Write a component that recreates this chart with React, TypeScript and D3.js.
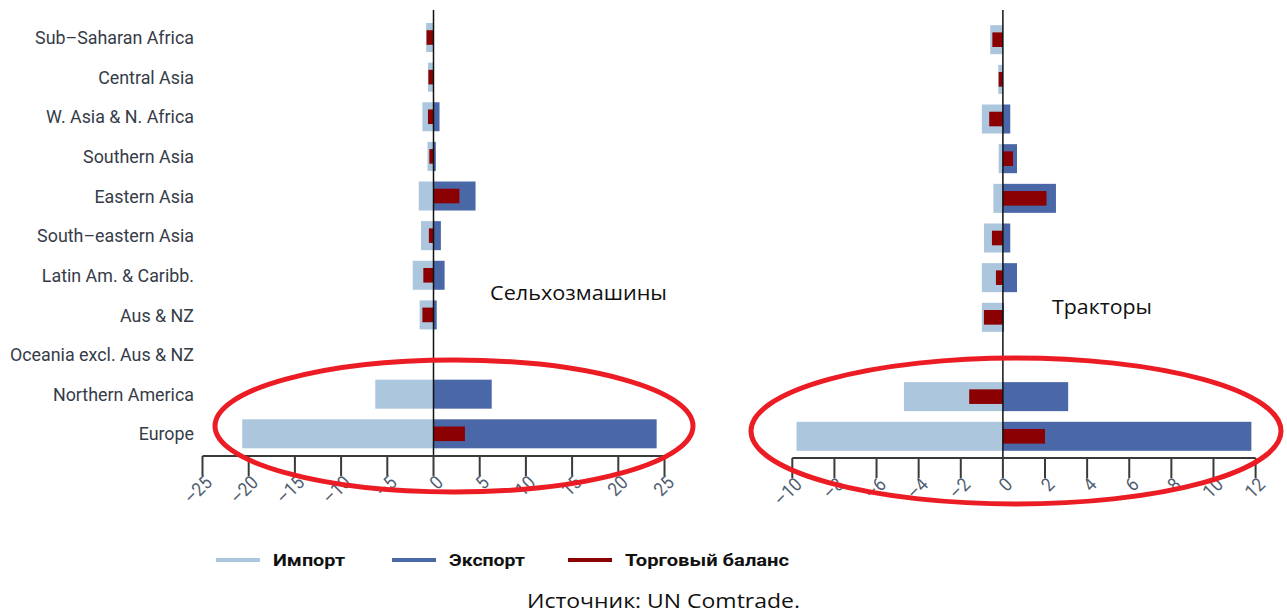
import React, { useEffect, useRef } from "react";
import * as d3 from "d3";

// регионы (сверху вниз)
const categories = [
  "Sub–Saharan Africa",
  "Central Asia",
  "W. Asia & N. Africa",
  "Southern Asia",
  "Eastern Asia",
  "South–eastern Asia",
  "Latin Am. & Caribb.",
  "Aus & NZ",
  "Oceania excl. Aus & NZ",
  "Northern America",
  "Europe",
];

// Сельхозмашины
const machImport = [-0.8, -0.6, -1.2, -0.65, -1.6, -1.35, -2.25, -1.5, 0, -6.3, -20.7];
const machExport = [0.05, 0.05, 0.65, 0.25, 4.55, 0.8, 1.2, 0.35, 0, 6.3, 24.15];
const machBalance = [-0.75, -0.55, -0.6, -0.45, 2.8, -0.5, -1.1, -1.2, 0, 0, 3.4];
const machTicks = [-25, -20, -15, -10, -5, 0, 5, 10, 15, 20, 25];

// Тракторы
const tractImport = [-0.6, -0.22, -1.0, -0.2, -0.45, -0.9, -1.0, -1.0, 0, -4.7, -9.8];
const tractExport = [0, 0, 0.35, 0.67, 2.52, 0.35, 0.67, 0.05, 0, 3.1, 11.8];
const tractBalance = [-0.5, -0.2, -0.65, 0.48, 2.07, -0.52, -0.33, -0.9, 0, -1.6, 2.0];
const tractTicks = [-10, -8, -6, -4, -2, 0, 2, 4, 6, 8, 10, 12];

const legendItems = [
  { label: "Импорт", color: "#abc6dd", width: 72 },
  { label: "Экспорт", color: "#4a67a8", width: 76 },
  { label: "Торговый баланс", color: "#8b0000", width: 164 },
];

const COLORS = { imp: "#abc6dd", exp: "#4a67a8", bal: "#8b0000" };
const COND = "Roboto, 'DejaVu Sans Condensed', sans-serif";

const W = 1287;
const H = 614;

interface PanelCfg {
  title: string;
  titleX: number;
  titleY: number;
  titleW: number;
  imp: number[];
  exp: number[];
  bal: number[];
  ticks: number[];
  domain: [number, number];
  xRange: [number, number];
  yRange: [number, number];
  axisY: number;
  ellipse: { cx: number; cy: number; rx: number; ry: number };
}

const App: React.FC = () => {
  const svgRef = useRef<SVGSVGElement>(null);

  useEffect(() => {
    if (!svgRef.current) return;
    const svg = d3.select(svgRef.current);
    svg.selectAll("*").remove();

    const panels: PanelCfg[] = [
      {
        title: "Сельхозмашины",
        titleX: 490,
        titleY: 300,
        titleW: 177,
        imp: machImport,
        exp: machExport,
        bal: machBalance,
        ticks: machTicks,
        domain: [-25, 25],
        xRange: [202.5, 664.5],
        yRange: [37.5, 433.8],
        axisY: 456,
        ellipse: { cx: 454, cy: 426, rx: 239, ry: 66 },
      },
      {
        title: "Тракторы",
        titleX: 1052,
        titleY: 314,
        titleW: 100,
        imp: tractImport,
        exp: tractExport,
        bal: tractBalance,
        ticks: tractTicks,
        domain: [-10, 12],
        xRange: [792.3, 1255.6],
        yRange: [39.7, 436.3],
        axisY: 458,
        ellipse: { cx: 1016, cy: 431, rx: 265, ry: 73 },
      },
    ];

    // подписи регионов (только слева)
    const yLabels = d3.scalePoint<string>().domain(categories).range(panels[0].yRange);
    svg
      .append("g")
      .selectAll("text")
      .data(categories)
      .enter()
      .append("text")
      .attr("transform", (d) => `translate(194, ${yLabels(d)}) scale(0.94, 1)`)
      .attr("dy", "0.35em")
      .attr("text-anchor", "end")
      .style("font-family", COND)
      .style("font-size", "19px")
      .style("fill", "#353c48")
      .text((d) => d);

    panels.forEach((p) => {
      const x = d3.scaleLinear().domain(p.domain).range(p.xRange);
      const y = d3.scalePoint<string>().domain(categories).range(p.yRange);
      const g = svg.append("g");
      const barH = 29;
      const balH = 14.6;

      const drawBars = (vals: number[], color: string, h: number) => {
        g.append("g")
          .selectAll("rect")
          .data(vals)
          .enter()
          .append("rect")
          .attr("x", (d) => x(Math.min(0, d)))
          .attr("width", (d) => Math.abs(x(d) - x(0)))
          .attr("y", (_, i) => (y(categories[i]) as number) - h / 2)
          .attr("height", h)
          .attr("fill", color);
      };

      drawBars(p.imp, COLORS.imp, barH);
      drawBars(p.exp, COLORS.exp, barH);
      drawBars(p.bal, COLORS.bal, balH);

      // нулевая линия
      g.append("line")
        .attr("x1", x(0))
        .attr("x2", x(0))
        .attr("y1", 10)
        .attr("y2", p.axisY)
        .attr("stroke", "#111")
        .attr("stroke-width", 1.5);

      // ось X
      g.append("line")
        .attr("x1", x(p.domain[0]))
        .attr("x2", x(p.domain[1]))
        .attr("y1", p.axisY)
        .attr("y2", p.axisY)
        .attr("stroke", "#3a3a3a")
        .attr("stroke-width", 2);

      g.append("g")
        .selectAll("line")
        .data(p.ticks)
        .enter()
        .append("line")
        .attr("x1", (d) => x(d))
        .attr("x2", (d) => x(d))
        .attr("y1", p.axisY)
        .attr("y2", p.axisY + 20)
        .attr("stroke", "#3a3a3a")
        .attr("stroke-width", 2);

      g.append("g")
        .selectAll("text")
        .data(p.ticks)
        .enter()
        .append("text")
        .attr("transform", (d) => `translate(${x(d) + 6}, ${p.axisY + 23}) rotate(-45) scale(0.9, 1)`)
        .attr("text-anchor", "end")
        .attr("dy", "0.35em")
        .style("font-family", COND)
        .style("font-size", "19px")
        .style("fill", "#4f5d70")
        .text((d) => (d < 0 ? `–${Math.abs(d)}` : `${d}`));

      // название панели
      svg
        .append("text")
        .attr("x", p.titleX)
        .attr("y", p.titleY)
        .attr("textLength", p.titleW)
        .attr("lengthAdjust", "spacingAndGlyphs")
        .style("font-family", "'Open Sans', sans-serif")
        .style("font-size", "20px")
        .style("fill", "#111")
        .text(p.title);

      // красный овал
      svg
        .append("ellipse")
        .attr("cx", p.ellipse.cx)
        .attr("cy", p.ellipse.cy)
        .attr("rx", p.ellipse.rx)
        .attr("ry", p.ellipse.ry)
        .attr("fill", "none")
        .attr("stroke", "#ec1c24")
        .attr("stroke-width", 5);
    });

    // легенда
    const legendX = [216, 392, 568];
    const legend = svg
      .append("g")
      .selectAll("g")
      .data(legendItems)
      .enter()
      .append("g")
      .attr("transform", (_, i) => `translate(${legendX[i]}, 560)`);

    legend
      .append("line")
      .attr("x1", 0)
      .attr("x2", 44)
      .attr("stroke", (d) => d.color)
      .attr("stroke-width", 4);

    legend
      .append("text")
      .attr("x", 57)
      .attr("dy", "0.35em")
      .attr("textLength", (d) => d.width)
      .attr("lengthAdjust", "spacingAndGlyphs")
      .style("font-family", COND)
      .style("font-weight", "bold")
      .style("font-size", "17px")
      .style("fill", "#111")
      .text((d) => d.label);

    // источник
    svg
      .append("text")
      .attr("x", 527)
      .attr("y", 608)
      .attr("textLength", 273)
      .attr("lengthAdjust", "spacingAndGlyphs")
      .style("font-family", "'Open Sans', sans-serif")
      .style("font-size", "20px")
      .style("fill", "#111")
      .text("Источник: UN Comtrade.");
  }, []);

  return (
    <div style={{ position: "absolute", left: 0, top: 0, background: "#fff" }}>
      <svg ref={svgRef} width={W} height={H} />
    </div>
  );
};

export default App;
